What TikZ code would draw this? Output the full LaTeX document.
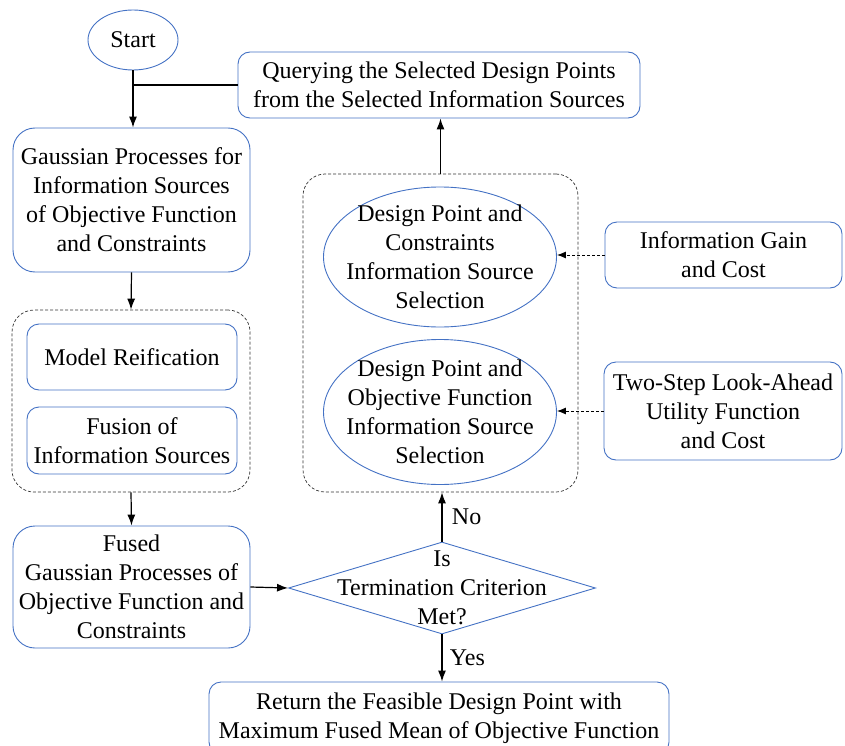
\documentclass[tikz,border=0pt]{standalone}
\usepackage{fontspec}
\setmainfont{Liberation Serif}
\usetikzlibrary{arrows.meta,positioning,shapes.geometric,calc}
\definecolor{boxblue}{RGB}{68,114,196}
\tikzstyle{etape}=[draw=boxblue, line width=0.9pt, rounded corners=12pt, align=center, inner sep=0pt]
\tikzstyle{grande}=[etape, rounded corners=22pt]
\tikzstyle{bulle}=[ellipse, draw=boxblue, line width=0.9pt, align=center, inner sep=-18pt]
\tikzstyle{test}=[diamond, draw=boxblue, line width=0.9pt, inner sep=0pt]
\tikzstyle{groupe}=[draw=black!80, line width=0.7pt, dash pattern=on 3pt off 2pt, rounded corners=22pt]
\tikzstyle{ligne}=[draw, line width=1.2pt, -{Latex[length=11pt,width=8pt]}]
\tikzstyle{ligneTo}=[draw, line width=0.9pt, dash pattern=on 3pt off 2pt, -{Latex[length=9pt,width=7pt]}]
\newcommand{\etape}[4]{node (#1)[etape, minimum width=#2, minimum height=#3]{#4}}
\newcommand{\grande}[4]{node (#1)[grande, minimum width=#2, minimum height=#3]{#4}}
\newcommand{\bulle}[4]{node (#1)[bulle, minimum width=#2, minimum height=#3]{#4}}
\newcommand{\groupe}[3]{node (#1)[groupe, minimum width=#2, minimum height=#3]{}}
\begin{document}
\begin{tikzpicture}[x=1pt, y=-1pt, font=\fontsize{24}{29}\selectfont]
	\useasboundingbox (0,0) rectangle (845,746);
	
	% Draw diagram elements
	\path (133,40) \bulle{start}{90}{60}{Start};
	\path (439,85) \etape{query}{402}{66}{Querying the Selected Design Points\\from the Selected Information Sources};
	\path (131.5,200) \grande{gp}{237}{144}{Gaussian Processes for\\Information Sources\\of Objective Function\\and Constraints};
	\path (131,401) \groupe{grp1}{238}{182};
	\path (132,357) \etape{model}{210}{66}{Model Reification};
	\path (132,440.5) \etape{fusion}{210}{67}{Fusion of\\Information Sources};
	\path (131.5,587) \grande{fused}{237}{122}{Fused\\Gaussian Processes of\\Objective Function and\\Constraints};
	\path (442,588) node (crit)[test, minimum width=307, minimum height=92]{};
	\path (crit) node (critT)[align=center]{Is\\Termination Criterion\\Met?};
	\path (439,718) \etape{ret}{460}{72}{Return the Feasible Design Point with\\Maximum Fused Mean of Objective Function};
	\path (440.5,333) \groupe{grp2}{275}{318};
	\path (440,257) \bulle{sel1}{233}{140}{Design Point and\\Constraints\\Information Source\\Selection};
	\path (440,412) \bulle{sel2}{233}{145}{Design Point and\\Objective Function\\Information Source\\Selection};
	\path (723.5,255) \etape{gain}{237}{66}{Information Gain\\and Cost};
	\path (723,411) \etape{ahead}{238}{98}{Two-Step Look-Ahead\\Utility Function\\and Cost};
	
	% Draw arrows between elements
	\path [ligne] (start.south) -- (start.south |- gp.north);
	\draw [line width=1.2pt] (query.west) -- (query.west -| start.south);
	\path [ligne] (gp.south) -- (grp1.north);
	\path [ligne] (grp1.south) -- (fused.north);
	\path [ligne] (fused.east) -- (crit.west);
	\path [ligne] (crit.north) -- node [right, xshift=6pt]{No} (crit.north |- grp2.south);
	\path [ligne] (crit.south) -- node [right, xshift=4pt]{Yes} (crit.south |- ret.north);
	\path [ligne] (grp2.north) -- (grp2.north |- query.south);
	\path [ligneTo] (gain.west) -- (sel1.east |- gain.west);
	\path [ligneTo] (ahead.west) -- (sel2.east |- ahead.west);
	
\end{tikzpicture}
\end{document}
